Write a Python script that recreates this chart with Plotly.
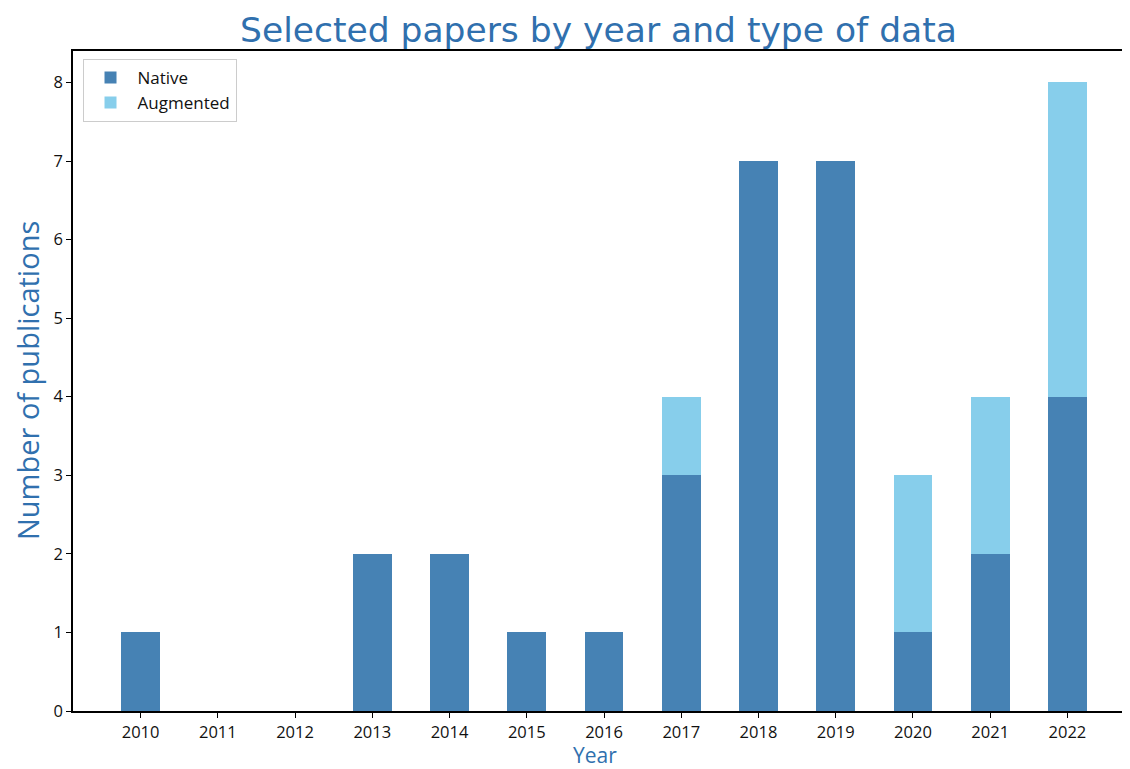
import plotly.graph_objects as go

years = [2010, 2011, 2012, 2013, 2014, 2015, 2016, 2017, 2018, 2019, 2020, 2021, 2022]
native = [1, 0, 0, 2, 2, 1, 1, 3, 7, 7, 1, 2, 4]
augmented = [0, 0, 0, 0, 0, 0, 0, 1, 0, 0, 2, 2, 4]
y_ticks = [0, 1, 2, 3, 4, 5, 6, 7, 8]

NATIVE_COLOR = "#4682B4"
AUG_COLOR = "#87CEEB"
LABEL_COLOR = "#3070AE"
TICK_FONT = dict(family="Open Sans", size=16.5, color="#111111")

# the page body adds an 8px offset, so the figure is 8px smaller and margins shrink by 8
fig = go.Figure()
fig.add_bar(x=years, y=native, name="Native", width=0.5,
            marker=dict(color=NATIVE_COLOR, line=dict(width=0)))
fig.add_bar(x=years, y=augmented, name="Augmented", width=0.5,
            marker=dict(color=AUG_COLOR, line=dict(width=0)))

fig.update_layout(
    width=1122, height=761,
    barmode="stack",
    margin=dict(l=65, r=0, t=43, b=58),
    paper_bgcolor="white",
    plot_bgcolor="white",
    showlegend=True,
    legend=dict(
        x=0.009, y=0.988, xanchor="left", yanchor="top",
        bordercolor="#cccccc", borderwidth=1, bgcolor="white",
        font=dict(family="Open Sans", size=17, color="#111111"),
        traceorder="normal", itemwidth=44, tracegroupgap=0,
    ),
    xaxis=dict(
        range=[2009.125, 2022.81],
        tickvals=years, ticktext=[str(y) for y in years],
        showgrid=False, zeroline=False,
        showline=True, linecolor="black", linewidth=1.5, mirror=True,
        ticks="outside", ticklen=5, tickcolor="black",
        tickfont=TICK_FONT,
    ),
    yaxis=dict(
        range=[0, 8.4],
        tickvals=y_ticks,
        showgrid=False, zeroline=False,
        showline=True, linecolor="black", linewidth=1.5,
        ticks="outside", ticklen=5, tickcolor="black",
        tickfont=TICK_FONT,
    ),
    annotations=[
        dict(text="Selected papers by year and type of data", xref="paper", yref="paper",
             x=0.4975, y=1.0, yshift=21, showarrow=False, xanchor="center", yanchor="middle",
             font=dict(family="DejaVu Sans", size=34.5, color=LABEL_COLOR)),
        dict(text="Year", xref="paper", yref="paper", x=0.494, y=0.0, yshift=-44,
             showarrow=False, xanchor="center", yanchor="middle", borderpad=0,
             font=dict(family="Open Sans", size=21, color=LABEL_COLOR)),
        dict(text="Number of publications", xref="paper", yref="paper", x=0.0, xshift=-46,
             y=0.5, textangle=-90, showarrow=False, xanchor="center", yanchor="middle",
             font=dict(family="Open Sans", size=29, color=LABEL_COLOR)),
    ],
)

fig.write_html("out.html")
